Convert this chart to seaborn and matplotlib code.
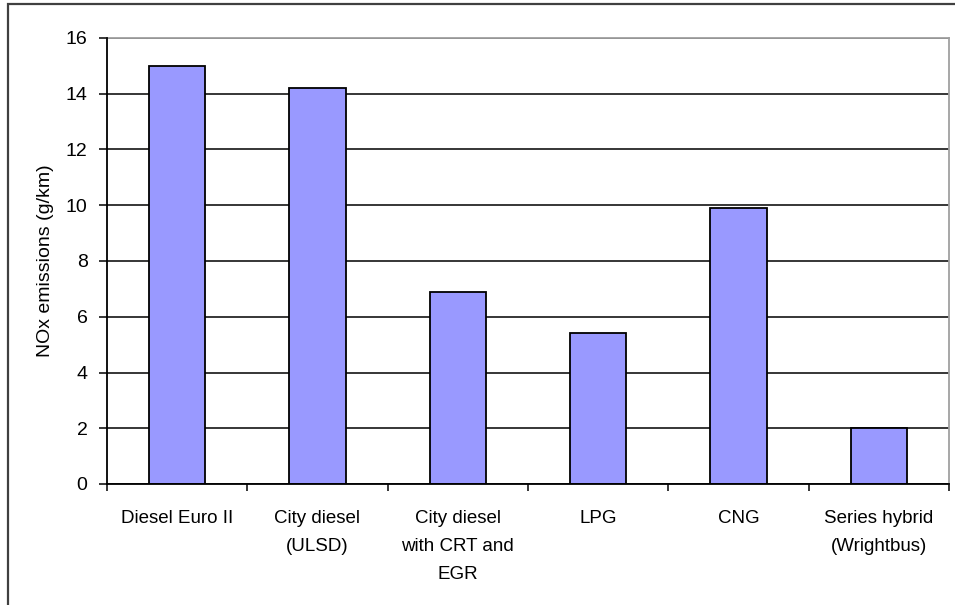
import matplotlib
matplotlib.use("Agg")
import matplotlib.pyplot as plt
from matplotlib.patches import Rectangle
from matplotlib.ticker import FixedLocator, NullFormatter
import seaborn as sns
import pandas as pd

categories = [
    "Diesel Euro II",
    "City diesel\n(ULSD)",
    "City diesel\nwith CRT and\nEGR",
    "LPG",
    "CNG",
    "Series hybrid\n(Wrightbus)",
]
nox_values = [15.0, 14.2, 6.9, 5.4, 9.9, 2.0]
y_ticks = [0, 2, 4, 6, 8, 10, 12, 14, 16]

df = pd.DataFrame({"vehicle": categories, "nox": nox_values})

sns.set_theme(style="white")
plt.rcParams["font.family"] = ["Liberation Sans", "DejaVu Sans"]

fig = plt.figure(figsize=(9.55, 6.05), dpi=100)
fig.patch.set_facecolor("white")
ax = fig.add_axes([107 / 955, 121 / 605, 842 / 955, 446 / 605])
ax.set_facecolor("white")

sns.barplot(data=df, x="vehicle", y="nox", color="#9999FF", saturation=1,
            edgecolor="black", linewidth=1.3, width=0.4, ax=ax, zorder=3)

ax.set_ylim(0, 16)
ax.set_xlim(-0.5, len(categories) - 0.5)
ax.set_yticks(y_ticks)
ax.yaxis.grid(True, color="black", linewidth=1.1, zorder=0)
ax.set_axisbelow(True)

# category labels centred, tick marks at the category boundaries
ax.tick_params(axis="x", which="major", length=0, pad=19, labelsize=13.5,
               colors="black")
ax.xaxis.set_minor_locator(FixedLocator([i - 0.5 for i in range(len(categories) + 1)]))
ax.xaxis.set_minor_formatter(NullFormatter())
ax.tick_params(axis="x", which="minor", length=5, width=1.1, color="black",
               direction="out", bottom=True)
ax.tick_params(axis="y", length=6, width=1.1, color="black", direction="out",
               left=True, labelsize=14, pad=8, colors="black")
for lbl in ax.get_xticklabels():
    lbl.set_linespacing(1.85)
    lbl.set_verticalalignment("top")

ax.set_xlabel("")
ax.set_ylabel("NOx emissions (g/km)", fontsize=14, color="black")
ax.yaxis.set_label_coords(-62 / 842, 0.5)
ax.yaxis.label.set_verticalalignment("center")

for side in ("left", "bottom"):
    ax.spines[side].set_color("black")
    ax.spines[side].set_linewidth(1.3)
for side in ("top", "right"):
    ax.spines[side].set_color("#A0A0A0")
    ax.spines[side].set_linewidth(1.3)
    ax.spines[side].set_visible(True)
ax.spines["left"].set_zorder(4)
ax.spines["bottom"].set_zorder(4)

# outer chart frame (left and top edges visible)
fig.patches.append(Rectangle((8 / 955, -0.2), 1.5, 1.2 - 4 / 605,
                             transform=fig.transFigure, fill=False,
                             edgecolor="#404040", linewidth=1.6))

fig.savefig("out.png", dpi=100, facecolor="white")
